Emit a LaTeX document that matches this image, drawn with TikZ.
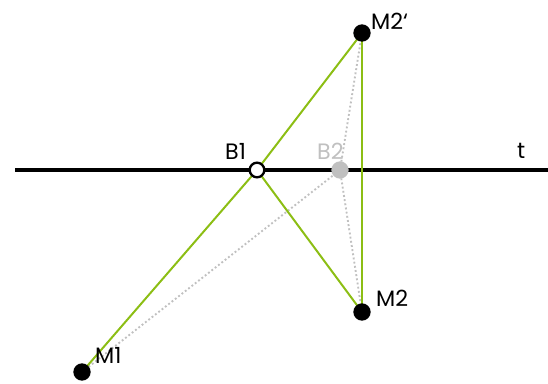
\documentclass[tikz,border=0pt]{standalone}
\usepackage{fontspec}
\setmainfont{Poppins}
\usepackage{xcolor}
\usetikzlibrary{positioning}

\definecolor{lightgreen}{RGB}{140,190,20}
\definecolor{lightgray}{RGB}{192,192,192}

\begin{document}
\begin{tikzpicture}[x=0.03cm, y=-0.03cm]

\tikzset{
  mirror/.style={line width=2.6pt, black},
  path/.style={line width=1.7pt, lightgreen},
  altpath/.style={line width=1.6pt, lightgray, dotted},
  point/.style={circle, fill=black, inner sep=0pt, minimum size=0.52cm},
  hitpoint/.style={circle, draw=black, line width=2pt, fill=white,
    inner sep=0pt, minimum size=0.44cm},
  altpoint/.style={circle, fill=lightgray, inner sep=0pt, minimum size=0.52cm},
  ptlabel/.style={font=\fontsize{19}{22}\selectfont, anchor=base west,
    inner sep=0pt}
}

\useasboundingbox (0,0) rectangle (548,383);

% points
\coordinate (tL) at (15,170);
\coordinate (tR) at (548,170);
\coordinate (M1)  at (82,372);
\coordinate (M2)  at (362,312);
\coordinate (M2p) at (362,33);
\coordinate (B1)  at (257,170);
\coordinate (B2)  at (340,170);

\draw[mirror] (tL) -- (tR);

\draw[altpath] (M1) -- (B2);
\draw[altpath] (B2) -- (M2p);
\draw[altpath] (B2) -- (M2);

\draw[path] (M1) -- (B1) -- (M2p);
\draw[path] (B1) -- (M2);
\draw[path] (M2p) -- (M2);

\node[point] (m1) at (M1) {};
\node[point] (m2) at (M2) {};
\node[point] (m2p) at (M2p) {};
\node[altpoint] (b2) at (B2) {};
\node[hitpoint] (b1) at (B1) {};

% labels
\node[ptlabel] at (95,363)  {M1};
\node[ptlabel] at (376,306) {M2};
\node[ptlabel] at (371,29)  {M2‘};
\node[ptlabel] at (225,159) {B1};
\node[ptlabel, text=lightgray] at (317,159) {B2};
\node[ptlabel] at (517,158) {t};

\end{tikzpicture}
\end{document}
